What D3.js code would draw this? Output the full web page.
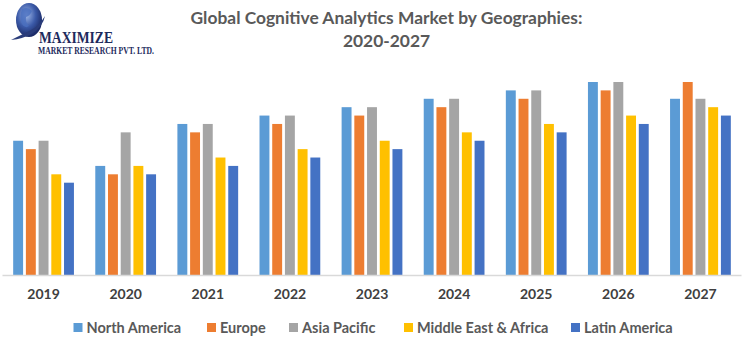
<!DOCTYPE html>
<html>
<head>
<meta charset="utf-8">
<script src="https://cdn.jsdelivr.net/npm/d3@7"></script>
<style>
  body { margin: 0; background: #fff; }
  svg { display: block; }
</style>
</head>
<body>
<div id="chart-div"></div>
<script>
// Script globals
const CHART_WIDTH = 745
const CHART_HEIGHT = 343

// data
const years = ["2019", "2020", "2021", "2022", "2023", "2024", "2025", "2026", "2027"]
const regions = ["North America", "Europe", "Asia Pacific", "Middle East & Africa", "Latin America"]
const northAmerica = [16, 13, 18, 19, 20, 21, 22, 23, 21]
const europe = [15, 12, 17, 18, 19, 20, 21, 22, 23]
const asiaPacific = [16, 17, 18, 19, 20, 21, 22, 23, 21]
const middleEastAfrica = [12, 13, 14, 15, 16, 17, 18, 19, 20]
const latinAmerica = [11, 12, 13, 14, 15, 16, 17, 18, 19]
const colors = ["#5B9BD5", "#ED7D31", "#A5A5A5", "#FFC000", "#4472C4"]

const titleLines = ["Global Cognitive Analytics Market by Geographies:", "2020-2027"]

init();

function init () {
  const svg = d3.select("#chart-div").append("svg")
    .attr("width", CHART_WIDTH)
    .attr("height", CHART_HEIGHT)

  drawLogo(svg);
  drawTitle(svg);
  drawBars(svg);
  drawLegend(svg);
}

/**
 * small stand-in for the company logo
 */
function drawLogo (svg) {
  const defs = svg.append("defs")
  const grad = defs.append("radialGradient").attr("id", "globe")
    .attr("cx", "40%").attr("cy", "35%").attr("r", "65%")
  grad.append("stop").attr("offset", "0%").attr("stop-color", "#9fb8e8")
  grad.append("stop").attr("offset", "55%").attr("stop-color", "#3b5aa8")
  grad.append("stop").attr("offset", "100%").attr("stop-color", "#1b2a66")

  const g = svg.append("g").attr("class", "logo")
  g.append("ellipse")
    .attr("cx", 29).attr("cy", 20).attr("rx", 13).attr("ry", 17)
    .attr("fill", "url(#globe)")
  // land shapes
  g.append("path")
    .attr("d", "M22,9 q6,-3 10,2 q-2,5 -6,6 q-1,5 3,9 q-4,3 -7,-2 q-3,-6 0,-15z")
    .attr("fill", "#4a6fbf").attr("opacity", 0.8)
  // swoosh
  g.append("path")
    .attr("d", "M11,40 q8,-4 20,-10 q8,-4 14,-14 q-2,10 -12,17 q-10,6 -22,7z")
    .attr("fill", "#2a3c7a")

  g.append("text")
    .attr("x", 39).attr("y", 43)
    .attr("font-family", "Liberation Serif, DejaVu Serif, serif")
    .attr("font-weight", "bold")
    .attr("font-size", 17)
    .attr("textLength", 74)
    .attr("lengthAdjust", "spacingAndGlyphs")
    .attr("fill", "#1d2a5c")
    .text("MAXIMIZE")
  g.append("text")
    .attr("x", 38).attr("y", 54)
    .attr("font-family", "Liberation Serif, DejaVu Serif, serif")
    .attr("font-weight", "bold")
    .attr("font-size", 9.5)
    .attr("textLength", 116)
    .attr("lengthAdjust", "spacingAndGlyphs")
    .attr("fill", "#1d2a5c")
    .text("MARKET RESEARCH PVT. LTD.")
}

function drawTitle (svg) {
  svg.append("g").attr("class", "title")
    .selectAll("text")
    .data(titleLines)
    .join("text")
      .attr("x", 386.5)
      .attr("y", (d, i) => 24 + i * 23)
      .attr("text-anchor", "middle")
      .attr("font-family", "Lato, 'Open Sans', sans-serif")
      .attr("font-weight", "bold")
      .attr("font-size", 17.4)
      .attr("fill", "#595959")
      .text(d => d)
}

function drawBars (svg) {
  const marginLeft = 2.5
  const marginRight = 3.5
  const baseline = 275

  const series = [northAmerica, europe, asiaPacific, middleEastAfrica, latinAmerica]
  const data = years.map((year, i) => ({
    year: year,
    values: regions.map((r, j) => ({ region: r, color: colors[j], value: series[j][i] }))
  }))

  const x0 = d3.scaleBand()
    .domain(years)
    .range([marginLeft, CHART_WIDTH - marginRight])
    .paddingInner(0.26)
    .paddingOuter(0.13)

  const x1 = d3.scaleBand()
    .domain(regions)
    .range([0, x0.bandwidth()])
    .paddingInner(0.22)

  const y = d3.scaleLinear()
    .domain([0, 23])
    .range([baseline, 82])

  const groups = svg.append("g").attr("class", "bars")
    .selectAll("g")
    .data(data)
    .join("g")
      .attr("transform", d => `translate(${x0(d.year)},0)`)

  groups.selectAll("rect")
    .data(d => d.values)
    .join("rect")
      .attr("x", d => x1(d.region))
      .attr("y", d => y(d.value))
      .attr("width", x1.bandwidth())
      .attr("height", d => y(0) - y(d.value))
      .attr("fill", d => d.color)

  // x axis
  const xAxis = svg.append("g")
    .attr("class", "xAxis")
    .attr("transform", `translate(0,${baseline})`)
    .call(d3.axisBottom(x0).tickSize(0).tickPadding(14))
  xAxis.select(".domain")
    .attr("stroke", "#D9D9D9")
    .attr("stroke-width", 1.5)
    .attr("d", `M${marginLeft},0.5H${CHART_WIDTH - marginRight}`)
  xAxis.selectAll("text")
    .attr("font-family", "Lato, 'Open Sans', sans-serif")
    .attr("font-weight", "bold")
    .attr("font-size", 14)
    .attr("fill", "#404040")
}

function drawLegend (svg) {
  const legend = svg.append("g").attr("class", "legend")
  const legendX = [73.5, 207, 289, 404, 571]
  const items = legend.selectAll("g")
    .data(regions)
    .join("g")
      .attr("transform", (d, i) => `translate(${legendX[i]},323)`)

  items.append("rect")
    .attr("width", 9).attr("height", 9)
    .attr("fill", (d, i) => colors[i])
  items.append("text")
    .attr("x", 13).attr("y", 9.5)
    .attr("font-family", "Lato, 'Open Sans', sans-serif")
    .attr("font-weight", "bold")
    .attr("font-size", 14.5)
    .attr("fill", "#595959")
    .text(d => d)
}
</script>
</body>
</html>
